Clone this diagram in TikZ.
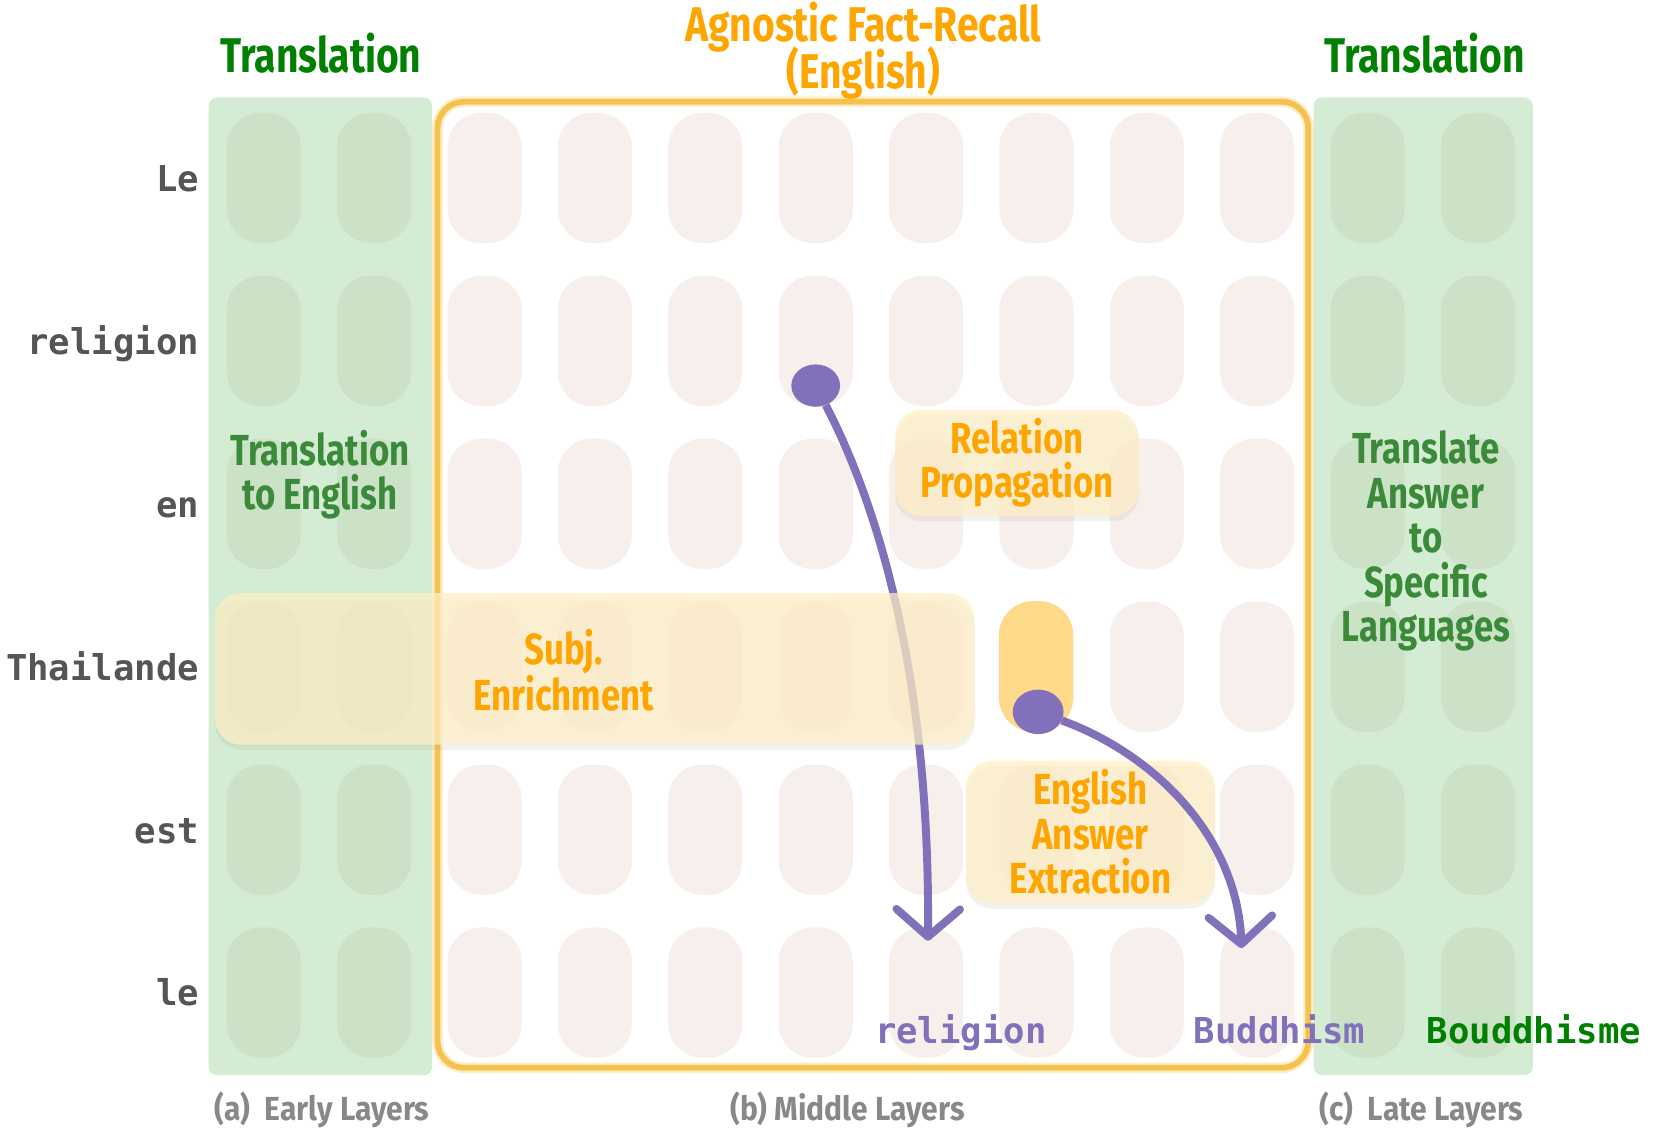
\documentclass[tikz,border=0pt]{standalone}
\usepackage{fontspec}
\usepackage{tikz}
\usetikzlibrary{arrows.meta,shapes.geometric,shadows}

\newfontfamily\labelfont{Fira Sans}[FakeStretch=0.8]
\newfontfamily\capfont{Fira Sans}[FakeStretch=0.9]
\newfontfamily\tokenfont{DejaVu Sans Mono}

\definecolor{bandgreen}{HTML}{D4ECD4}
\definecolor{cellgreen}{HTML}{CCE2C6}
\definecolor{cellpink}{HTML}{F7EFEB}
\definecolor{titlegreen}{HTML}{008000}
\definecolor{textgreen}{HTML}{3A8A3A}
\definecolor{recallorange}{HTML}{FFA500}
\definecolor{frameorange}{HTML}{F6C24E}
\definecolor{hlyellow}{HTML}{FFEFC4}
\definecolor{hotcell}{HTML}{FFD98A}
\definecolor{flowpurple}{HTML}{8171BB}
\definecolor{tokgray}{HTML}{555555}
\definecolor{capgray}{HTML}{888888}

\begin{document}
\begin{tikzpicture}[
    x=1pt, y=-1pt,
    band/.style={
        fill=bandgreen,
        rounded corners=8pt
    },
    cell/.style={
        rounded corners=32pt,
        minimum width=70pt,
        minimum height=123pt,
        inner sep=0pt
    },
    phase/.style={
        rounded corners=25pt,
        fill=hlyellow,
        fill opacity=0.72,
        text opacity=1,
        inner sep=0pt,
        drop shadow={shadow xshift=0pt, shadow yshift=-5pt, opacity=0.10}
    },
    title/.style={
        font=\labelfont\bfseries\fontsize{46}{42}\selectfont,
        align=center
    },
    inner/.style={
        font=\labelfont\bfseries\fontsize{41}{42}\selectfont,
        align=center
    },
    caption/.style={
        font=\capfont\bfseries\fontsize{31.5}{32}\selectfont,
        text=capgray
    },
    token/.style={
        font=\tokenfont\bfseries\fontsize{33.6}{36}\selectfont,
        text height=0.75em,
        text depth=0.22em,
        inner sep=0pt
    },
    dot/.style={
        ellipse,
        fill=flowpurple,
        inner sep=0pt
    },
    flow/.style={
        draw=flowpurple,
        line width=7.5pt,
        -{Straight Barb[length=26pt,width=60pt,round]}
    }
]
\useasboundingbox (0,0) rectangle (1568,1070);

% layer bands
\fill[band] (197,92) rectangle (408,1015);
\fill[band] (1240,92) rectangle (1447,1015);

% hidden states
\foreach \c/\clr in {1/cellgreen,2/cellgreen,3/cellpink,4/cellpink,5/cellpink,
                     6/cellpink,7/cellpink,8/cellpink,9/cellpink,10/cellpink,
                     11/cellgreen,12/cellgreen}
    \foreach \r in {1,...,6}
        \node[cell, fill=\clr] (c-\c-\r) at ({249+(\c-1)*104.2}, {168+(\r-1)*153.8}) {};

% middle layers frame
\draw[frameorange, line width=10pt, opacity=0.3, rounded corners=25pt] (413,96) rectangle (1235,1008);
\draw[frameorange, line width=5.5pt, rounded corners=25pt] (413,96) rectangle (1235,1008);

% input tokens
\foreach \r/\tok in {1/Le,2/religion,3/en,4/Thailande,5/est,6/le}
    \node[token, text=tokgray, anchor=east] (tok\r) at (188, {178+(\r-1)*153.8}) {\tok};

\node[title, text=titlegreen] (earlyTitle) at (303,50) {Translation};
\node[title, text=titlegreen] (lateTitle) at (1345,50) {Translation};
\node[title, text=recallorange] (midTitle) at (815,48) {Agnostic Fact-Recall\\[-6pt](English)};

\node[inner, text=textgreen] (earlyText) at (302,448) {Translation\\to English};
\node[inner, text=textgreen] (lateText) at (1346,511) {Translate\\Answer\\to\\Specific\\Languages};

% subject -> relation
\node[dot, minimum width=46pt, minimum height=40pt] (srcRel) at (770,364) {};
\coordinate (tipRel) at (876,888);
\draw[flow] (srcRel) .. controls (830,480) and (878,640) .. (tipRel);

\node[phase, minimum width=717pt, minimum height=143pt] (subjBox) at (561.5,631.5) {};
\node[inner, text=recallorange] (subjText) at (532,633) {Subj.\\Enrichment};
\node[phase, inner, text=recallorange, minimum width=230pt, minimum height=100pt] (relBox) at (960,437) {Relation\\Propagation};

\node[cell, fill=hotcell] (hot) at (978,629) {};
\node[phase, inner, text=recallorange, minimum width=235pt, minimum height=135pt] (ansBox) at (1029.5,785.5) {English\\Answer\\Extraction};

% answer -> output
\node[dot, minimum width=48pt, minimum height=42pt] (srcAns) at (980,672) {};
\coordinate (tipAns) at (1172,895);
\draw[flow] (srcAns) .. controls (1090,712) and (1168,790) .. (tipAns);

% outputs
\node[token, text=flowpurple] (outRel) at (907,982) {religion};
\node[token, text=flowpurple] (outAns) at (1208,982) {Buddhism};
\node[token, text=titlegreen] (outFr) at (1448,982) {Bouddhisme};

\node[caption] (earlyCap) at (304,1048) {(a)\ \ Early Layers};
\node[caption] (midCap) at (800,1048) {(b) Middle Layers};
\node[caption] (lateCap) at (1342,1048) {(c)\ \ Late Layers};

\end{tikzpicture}
\end{document}
